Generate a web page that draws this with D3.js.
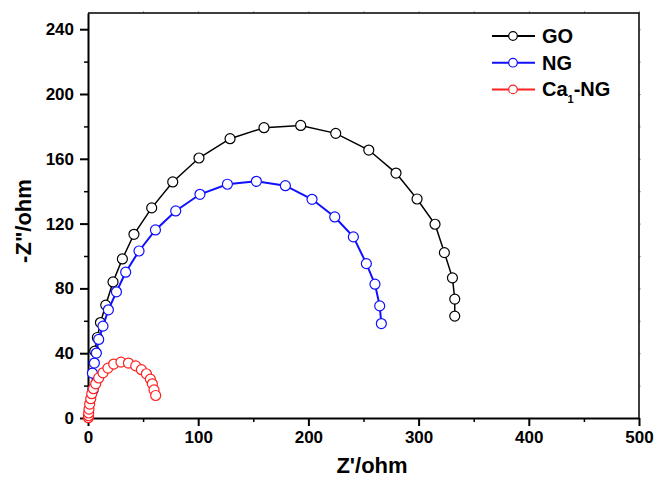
<!DOCTYPE html>
<html>
<head>
<meta charset="utf-8">
<script src="https://cdn.jsdelivr.net/npm/d3@7"></script>
<style>
  body { margin: 0; background: #fff; }
  svg { font-family: Arial, "Liberation Sans", sans-serif; font-weight: bold; }
</style>
</head>
<body>
<svg></svg>
<script>
// Nyquist data (Z', -Z'')
const goX = [6.1, 8.5, 11.3, 16.1, 22.7, 31.2, 41.7, 57.8, 76.9, 100.7, 128.9, 159.7, 193.0, 224.8, 254.8, 279.5, 298.6, 314.9, 323.4, 330.7, 332.8, 332.8];
const goY = [41.3, 49.7, 58.9, 69.7, 84.0, 98.2, 113.4, 129.7, 145.7, 160.5, 172.4, 179.2, 180.6, 175.7, 165.4, 151.2, 135.2, 119.6, 102.1, 86.5, 73.4, 62.9];

const ngX = [4.7, 4.0, 5.8, 7.6, 9.7, 13.6, 18.5, 25.8, 34.2, 46.3, 61.2, 79.6, 101.6, 126.5, 152.8, 179.1, 203.3, 223.9, 240.8, 252.6, 260.4, 264.7, 266.2];
const ngY = [17.4, 27.7, 33.9, 40.1, 48.5, 56.7, 66.8, 77.9, 90.0, 103.1, 116.1, 127.8, 138.1, 144.3, 146.1, 143.4, 135.0, 124.1, 111.8, 95.3, 82.6, 69.2, 58.3];

const caX = [0.3, 0.5, 0.6, 0.9, 1.5, 2.5, 3.4, 4.9, 7.0, 9.7, 13.6, 18.1, 23.3, 29.9, 36.7, 43.3, 48.5, 53.0, 56.6, 58.4, 59.9, 61.4];
const caY = [0.2, 1.4, 3.1, 5.5, 8.6, 11.9, 15.0, 18.1, 21.1, 24.7, 27.9, 30.8, 33.3, 34.5, 33.9, 32.2, 29.8, 27.3, 24.0, 21.1, 17.3, 13.9];

const xTicks = [0, 100, 200, 300, 400, 500];
const yTicks = [0, 40, 80, 120, 160, 200, 240];

const series = [
  {name: 'GO', color: '#000000', width: 1.5, x: goX, y: goY},
  {name: 'NG', color: '#1010ff', width: 2, x: ngX, y: ngY},
  {name: 'Ca1-NG', color: '#ff2020', width: 1.5, x: caX, y: caY}
];

var margin = {top: 13, right: 18, bottom: 63, left: 88},
    width = 657 - margin.left - margin.right,
    height = 481 - margin.top - margin.bottom;

const svg = d3.select('svg')
    .attr('width', 657)
    .attr('height', 481);

const g = svg.append('g')
    .attr('transform', 'translate(' + margin.left + ',' + margin.top + ')');

const xScale = d3.scaleLinear().domain([0, 500]).range([0, width]);
const yScale = d3.scaleLinear().domain([0, 250]).range([height, 0]);

// minor ticks
g.append('g')
    .attr('transform', 'translate(0,' + height + ')')
    .call(d3.axisBottom(xScale).tickValues(d3.range(50, 500, 100)).tickSize(4).tickFormat(''))
    .call(a => a.select('.domain').remove())
    .selectAll('line').attr('stroke-width', 1.5);
g.append('g')
    .call(d3.axisLeft(yScale).tickValues(d3.range(20, 250, 40)).tickSize(4).tickFormat(''))
    .call(a => a.select('.domain').remove())
    .selectAll('line').attr('stroke-width', 1.5);

// faint ticks on top and right
g.append('g')
    .call(d3.axisTop(xScale).tickValues(d3.range(50, 501, 50)).tickSize(2).tickFormat(''))
    .call(a => a.select('.domain').remove())
    .selectAll('line').attr('stroke', '#aaa');
g.append('g')
    .attr('transform', 'translate(' + width + ',0)')
    .call(d3.axisRight(yScale).tickValues(d3.range(20, 250, 20)).tickSize(2).tickFormat(''))
    .call(a => a.select('.domain').remove())
    .selectAll('line').attr('stroke', '#aaa');

// frame top and right
g.append('path')
    .attr('d', 'M0,0H' + width + 'V' + height)
    .attr('fill', 'none')
    .attr('stroke', '#000')
    .attr('stroke-width', 1.5);

// x axis
const xAxis = g.append('g')
    .attr('transform', 'translate(0,' + height + ')')
    .call(d3.axisBottom(xScale).tickValues(xTicks).tickSize(8).tickSizeOuter(0).tickPadding(5));
xAxis.select('.domain').attr('stroke-width', 2);
xAxis.selectAll('line').attr('stroke-width', 2);
xAxis.selectAll('text').attr('font-size', 17).attr('font-family', null).attr('fill', '#000');

// y axis
const yAxis = g.append('g')
    .call(d3.axisLeft(yScale).tickValues(yTicks).tickSize(8).tickSizeOuter(0).tickPadding(6));
yAxis.select('.domain').attr('stroke-width', 2);
yAxis.selectAll('line').attr('stroke-width', 2);
yAxis.selectAll('text').attr('font-size', 17).attr('font-family', null).attr('fill', '#000');

// axis titles
svg.append('text')
    .attr('x', 372)
    .attr('y', 473)
    .attr('text-anchor', 'middle')
    .attr('font-size', 22)
    .text("Z'/ohm");

svg.append('text')
    .attr('transform', 'translate(31,221) rotate(-90)')
    .attr('text-anchor', 'middle')
    .attr('font-size', 22)
    .text('-Z"/ohm');

const line = d3.line()
    .x(d => xScale(d[0]))
    .y(d => yScale(d[1]));

// add curves and points
series.forEach(function(s){
    const pts = s.x.map((v, i) => [v, s.y[i]]);
    g.append('path')
        .datum(pts)
        .attr('d', line)
        .attr('fill', 'none')
        .attr('stroke', s.color)
        .attr('stroke-width', s.width);
    g.selectAll(null)
        .data(pts)
        .enter()
        .append('circle')
        .attr('cx', d => xScale(d[0]))
        .attr('cy', d => yScale(d[1]))
        .attr('r', 5)
        .attr('fill', '#fff')
        .attr('stroke', s.color)
        .attr('stroke-width', 1.2);
});

// legend
const legend = svg.append('g');
series.forEach(function(s, i){
    const y = 36 + i * 26.7;
    legend.append('line')
        .attr('x1', 492).attr('x2', 535)
        .attr('y1', y).attr('y2', y)
        .attr('stroke', s.color)
        .attr('stroke-width', 2);
    legend.append('circle')
        .attr('cx', 513).attr('cy', y)
        .attr('r', 4.3)
        .attr('fill', '#fff')
        .attr('stroke', s.color)
        .attr('stroke-width', 1.2);
    const t = legend.append('text')
        .attr('x', 542)
        .attr('y', y + 7)
        .attr('font-size', 20);
    if (s.name === 'Ca1-NG') {
        t.append('tspan').text('Ca');
        t.append('tspan').attr('font-size', 11).attr('dy', 7).text('1');
        t.append('tspan').attr('dy', -7).text('-NG');
    } else {
        t.text(s.name);
    }
});
</script>
</body>
</html>
